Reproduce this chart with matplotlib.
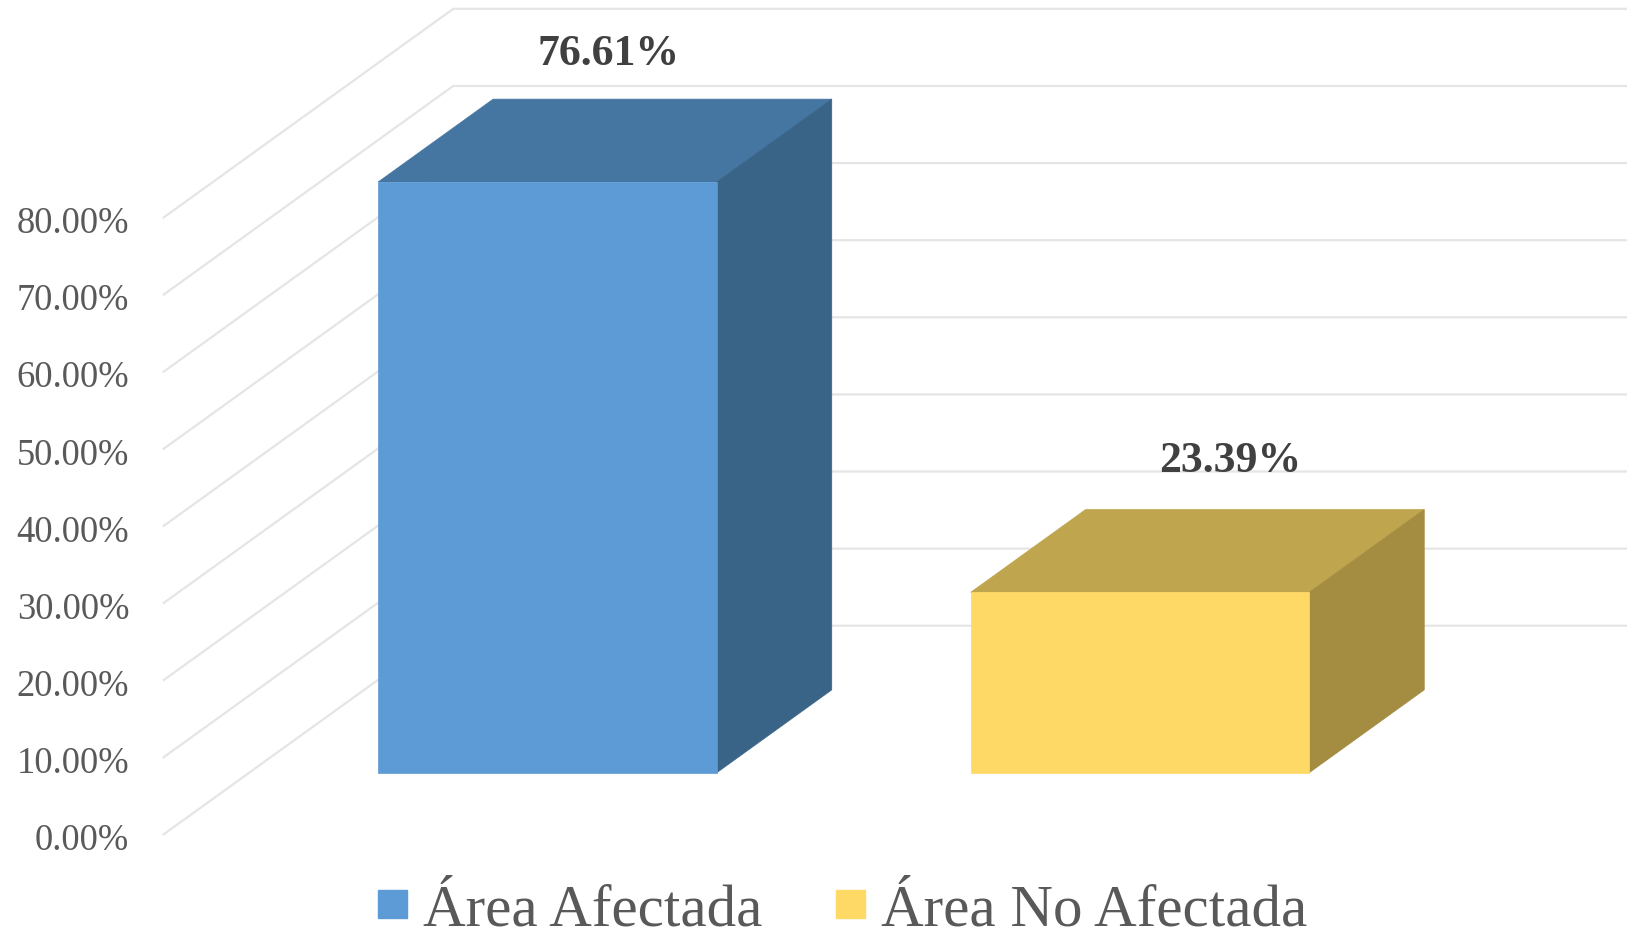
import matplotlib
matplotlib.use("Agg")
import matplotlib.pyplot as plt
from matplotlib.patches import Patch, Polygon

# data
categories = ["Área Afectada", "Área No Afectada"]
values = [76.61, 23.39]
value_labels = ["76.61%", "23.39%"]
ticks = [0, 10, 20, 30, 40, 50, 60, 70, 80]
tick_labels = ["0.00%", "10.00%", "20.00%", "30.00%", "40.00%",
               "50.00%", "60.00%", "70.00%", "80.00%"]

front_colors = ["#5D9BD7", "#FFD966"]
top_colors = ["#4575A1", "#BFA54E"]
side_colors = ["#3A6487", "#A48C41"]
grid_color = "#E5E5E5"

# fake 3d: how far a point at depth 1 moves in x (categories) and y (percent)
DX = 0.4886
DY = 27.05
BAR_WIDTH = 0.5715
BAR_FRONT = 0.2950
BAR_BACK = 0.6925
WALL_X = -0.504

# the value labels don't sit exactly on the bar centre in the original
label_dx = [0.005, 0.054]
label_dy = [-0.5, 0.0]


def project(x, y, depth):
    return x + depth * DX, y + depth * DY


plt.rcParams["font.family"] = ["Liberation Serif", "DejaVu Serif"]

fig = plt.figure(figsize=(16.27, 9.33), dpi=100)
ax = fig.add_axes([0, 0, 1, 1])
ax.set_xlim(-0.7803, 1.9657)
ax.set_ylim(-12.8, 108.2)
ax.axis("off")

# gridlines: left wall then back wall
for t, label in zip(ticks, tick_labels):
    x0, y0 = project(WALL_X, t, 0)
    x1, y1 = project(WALL_X, t, 1)
    ax.plot([x0, x1, 1.9657], [y0, y1, y1], color=grid_color, lw=1.6, zorder=1,
            solid_joinstyle="miter")
    ax.text(WALL_X - 0.058, t - 0.85, label, ha="right", va="center",
            fontsize=26.3, color="#595959")

# bars
for i, v in enumerate(values):
    left = i - 0.5727 / 2
    right = left + BAR_WIDTH
    corners = {
        "fl0": project(left, 0, BAR_FRONT), "fr0": project(right, 0, BAR_FRONT),
        "fl1": project(left, v, BAR_FRONT), "fr1": project(right, v, BAR_FRONT),
        "bl1": project(left, v, BAR_BACK), "br1": project(right, v, BAR_BACK),
        "br0": project(right, 0, BAR_BACK),
    }
    faces = [
        (("fl1", "bl1", "br1", "fr1"), top_colors[i]),
        (("fr0", "fr1", "br1", "br0"), side_colors[i]),
        (("fl0", "fl1", "fr1", "fr0"), front_colors[i]),
    ]
    for names, color in faces:
        ax.add_patch(Polygon([corners[n] for n in names], closed=True, facecolor=color,
                             edgecolor=color, lw=0.5, zorder=3))
    lx, _ = project(i, v, (BAR_FRONT + BAR_BACK) / 2)
    _, ly = project(i, v, BAR_BACK)
    ax.text(lx + label_dx[i], ly + 6.3 + label_dy[i], value_labels[i], ha="center", va="center",
            fontsize=31.5, fontweight="bold", color="#404040", zorder=4)

handles = [Patch(facecolor=c, edgecolor=c) for c in front_colors]
ax.legend(handles, categories, loc="center left", bbox_to_anchor=(0.2323, 0.0235), ncol=2,
          frameon=False, fontsize=42.5, labelcolor="#595959", borderpad=0, borderaxespad=0,
          handlelength=0.49, handleheight=0.36, handletextpad=0.27, columnspacing=1.25)

fig.savefig("out.png", dpi=100)
plt.close(fig)
